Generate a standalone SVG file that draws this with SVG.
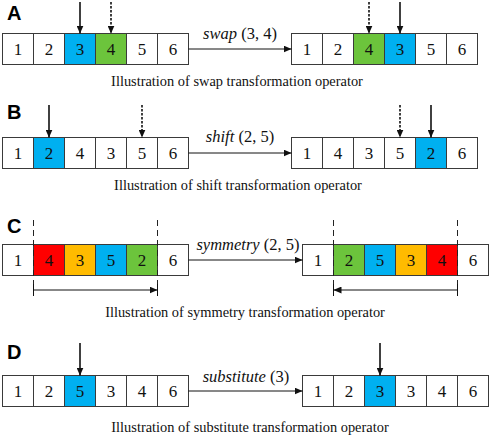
<svg xmlns="http://www.w3.org/2000/svg" width="491" height="438" viewBox="0 0 491 438">
<style>
.c{stroke:#3a3a3a;stroke-width:1;fill:#fff}
.b{fill:#00b0f0}.g{fill:#6cc43c}.r{fill:#ff0000}.o{fill:#ffbb00}
.d{font-family:"Liberation Serif","Times New Roman",serif;font-size:17px;text-anchor:middle;fill:#111}
.op{font-family:"Liberation Serif","Times New Roman",serif;font-size:16.5px;text-anchor:middle;fill:#111}
.op tspan.i{font-style:italic}
.cap{font-family:"Liberation Serif","Times New Roman",serif;font-size:14.4px;text-anchor:middle;fill:#111}
.lab{font-family:"Liberation Sans",Arial,sans-serif;font-size:20px;font-weight:bold;fill:#000}
.ln{stroke:#111;stroke-width:1;fill:none}
.dn{stroke:#111;stroke-width:1.6;fill:none}
.dsh{stroke:#111;stroke-width:1.6;fill:none;stroke-dasharray:2.5 1.5}
.vd{stroke:#222;stroke-width:1;fill:none;stroke-dasharray:6 4}
</style>
<defs>
<marker id="ah" markerUnits="userSpaceOnUse" markerWidth="8" markerHeight="7" refX="8" refY="3.5" orient="auto">
<path d="M0,0 L8,3.5 L0,7 Z" fill="#111"/>
</marker>
</defs>

<!-- Row A -->
<g id="labelA"><text class="lab" x="7" y="20">A</text></g>
<g id="A-before">
<rect class="c" x="2.5" y="33.5" width="31" height="31"/><text class="d" x="18" y="55">1</text>
<rect class="c" x="33.5" y="33.5" width="31" height="31"/><text class="d" x="49" y="55">2</text>
<rect class="c b" x="64.5" y="33.5" width="31" height="31"/><text class="d" x="80" y="55">3</text>
<rect class="c g" x="95.5" y="33.5" width="31" height="31"/><text class="d" x="111" y="55">4</text>
<rect class="c" x="126.5" y="33.5" width="31" height="31"/><text class="d" x="142" y="55">5</text>
<rect class="c" x="157.5" y="33.5" width="31" height="31"/><text class="d" x="173" y="55">6</text>
</g>
<g id="A-after">
<rect class="c" x="291.5" y="33.5" width="31" height="31"/><text class="d" x="307" y="55">1</text>
<rect class="c" x="322.5" y="33.5" width="31" height="31"/><text class="d" x="338" y="55">2</text>
<rect class="c g" x="353.5" y="33.5" width="31" height="31"/><text class="d" x="369" y="55">4</text>
<rect class="c b" x="384.5" y="33.5" width="31" height="31"/><text class="d" x="400" y="55">3</text>
<rect class="c" x="415.5" y="33.5" width="31" height="31"/><text class="d" x="431" y="55">5</text>
<rect class="c" x="446.5" y="33.5" width="31" height="31"/><text class="d" x="462" y="55">6</text>
</g>
<text class="op" x="240" y="39"><tspan class="i">swap</tspan> (3, 4)</text>
<text class="cap" x="237" y="86">Illustration of swap transformation operator</text>

<!-- Row B -->
<g id="labelB"><text class="lab" x="7" y="119">B</text></g>
<g id="B-before">
<rect class="c" x="2.5" y="137.5" width="31" height="31"/><text class="d" x="18" y="159">1</text>
<rect class="c b" x="33.5" y="137.5" width="31" height="31"/><text class="d" x="49" y="159">2</text>
<rect class="c" x="64.5" y="137.5" width="31" height="31"/><text class="d" x="80" y="159">4</text>
<rect class="c" x="95.5" y="137.5" width="31" height="31"/><text class="d" x="111" y="159">3</text>
<rect class="c" x="126.5" y="137.5" width="31" height="31"/><text class="d" x="142" y="159">5</text>
<rect class="c" x="157.5" y="137.5" width="31" height="31"/><text class="d" x="173" y="159">6</text>
</g>
<g id="B-after">
<rect class="c" x="291.5" y="137.5" width="31" height="31"/><text class="d" x="307" y="159">1</text>
<rect class="c" x="322.5" y="137.5" width="31" height="31"/><text class="d" x="338" y="159">4</text>
<rect class="c" x="353.5" y="137.5" width="31" height="31"/><text class="d" x="369" y="159">3</text>
<rect class="c" x="384.5" y="137.5" width="31" height="31"/><text class="d" x="400" y="159">5</text>
<rect class="c b" x="415.5" y="137.5" width="31" height="31"/><text class="d" x="431" y="159">2</text>
<rect class="c" x="446.5" y="137.5" width="31" height="31"/><text class="d" x="462" y="159">6</text>
</g>
<text class="op" x="240" y="142"><tspan class="i">shift</tspan> (2, 5)</text>
<text class="cap" x="238" y="190">Illustration of shift transformation operator</text>

<!-- Row C -->
<g id="labelC"><text class="lab" x="7" y="233">C</text></g>
<g id="C-before">
<rect class="c" x="2.5" y="244.5" width="31" height="31"/><text class="d" x="18" y="266">1</text>
<rect class="c r" x="33.5" y="244.5" width="31" height="31"/><text class="d" x="49" y="266">4</text>
<rect class="c o" x="64.5" y="244.5" width="31" height="31"/><text class="d" x="80" y="266">3</text>
<rect class="c b" x="95.5" y="244.5" width="31" height="31"/><text class="d" x="111" y="266">5</text>
<rect class="c g" x="126.5" y="244.5" width="31" height="31"/><text class="d" x="142" y="266">2</text>
<rect class="c" x="157.5" y="244.5" width="31" height="31"/><text class="d" x="173" y="266">6</text>
</g>
<g id="C-after">
<rect class="c" x="302.5" y="244.5" width="31" height="31"/><text class="d" x="318" y="266">1</text>
<rect class="c g" x="333.5" y="244.5" width="31" height="31"/><text class="d" x="349" y="266">2</text>
<rect class="c b" x="364.5" y="244.5" width="31" height="31"/><text class="d" x="380" y="266">5</text>
<rect class="c o" x="395.5" y="244.5" width="31" height="31"/><text class="d" x="411" y="266">3</text>
<rect class="c r" x="426.5" y="244.5" width="31" height="31"/><text class="d" x="442" y="266">4</text>
<rect class="c" x="457.5" y="244.5" width="31" height="31"/><text class="d" x="473" y="266">6</text>
</g>
<text class="op" x="248" y="250"><tspan class="i">symmetry</tspan> (2, 5)</text>
<text class="cap" x="245" y="317">Illustration of symmetry transformation operator</text>

<!-- Row D -->
<g id="labelD"><text class="lab" x="7" y="359">D</text></g>
<g id="D-before">
<rect class="c" x="2.5" y="375.5" width="31" height="31"/><text class="d" x="18" y="397">1</text>
<rect class="c" x="33.5" y="375.5" width="31" height="31"/><text class="d" x="49" y="397">2</text>
<rect class="c b" x="64.5" y="375.5" width="31" height="31"/><text class="d" x="80" y="397">5</text>
<rect class="c" x="95.5" y="375.5" width="31" height="31"/><text class="d" x="111" y="397">3</text>
<rect class="c" x="126.5" y="375.5" width="31" height="31"/><text class="d" x="142" y="397">4</text>
<rect class="c" x="157.5" y="375.5" width="31" height="31"/><text class="d" x="173" y="397">6</text>
</g>
<g id="D-after">
<rect class="c" x="302.5" y="375.5" width="31" height="31"/><text class="d" x="318" y="397">1</text>
<rect class="c" x="333.5" y="375.5" width="31" height="31"/><text class="d" x="349" y="397">2</text>
<rect class="c b" x="364.5" y="375.5" width="31" height="31"/><text class="d" x="380" y="397">3</text>
<rect class="c" x="395.5" y="375.5" width="31" height="31"/><text class="d" x="411" y="397">3</text>
<rect class="c" x="426.5" y="375.5" width="31" height="31"/><text class="d" x="442" y="397">4</text>
<rect class="c" x="457.5" y="375.5" width="31" height="31"/><text class="d" x="473" y="397">6</text>
</g>
<text class="op" x="246" y="382"><tspan class="i">substitute</tspan> (3)</text>
<text class="cap" x="250" y="432">Illustration of substitute transformation operator</text>

<g id="connectors">
<line class="ln" x1="188.5" y1="49" x2="291.5" y2="49" marker-end="url(#ah)"/>
<line class="ln" x1="188.5" y1="153" x2="291.5" y2="153" marker-end="url(#ah)"/>
<line class="ln" x1="188.5" y1="260" x2="302.5" y2="260" marker-end="url(#ah)"/>
<line class="ln" x1="188.5" y1="391" x2="302.5" y2="391" marker-end="url(#ah)"/>
<line class="dn" x1="80" y1="2" x2="80" y2="33.5" marker-end="url(#ah)"/>
<line class="dsh" x1="111" y1="2" x2="111" y2="33.5" marker-end="url(#ah)"/>
<line class="dsh" x1="369" y1="2" x2="369" y2="33.5" marker-end="url(#ah)"/>
<line class="dn" x1="400" y1="2" x2="400" y2="33.5" marker-end="url(#ah)"/>
<line class="dn" x1="49" y1="105" x2="49" y2="137.5" marker-end="url(#ah)"/>
<line class="dsh" x1="142" y1="105" x2="142" y2="137.5" marker-end="url(#ah)"/>
<line class="dsh" x1="400" y1="105" x2="400" y2="137.5" marker-end="url(#ah)"/>
<line class="dn" x1="431" y1="105" x2="431" y2="137.5" marker-end="url(#ah)"/>
<line class="vd" x1="33.5" y1="220" x2="33.5" y2="284"/>
<line class="vd" x1="157.5" y1="220" x2="157.5" y2="284"/>
<line class="ln" x1="33.5" y1="284" x2="33.5" y2="296"/>
<line class="ln" x1="157.5" y1="284" x2="157.5" y2="296"/>
<line class="ln" x1="33.5" y1="290" x2="157.5" y2="290" marker-end="url(#ah)"/>
<line class="vd" x1="333.5" y1="220" x2="333.5" y2="284"/>
<line class="vd" x1="457.5" y1="220" x2="457.5" y2="284"/>
<line class="ln" x1="333.5" y1="284" x2="333.5" y2="296"/>
<line class="ln" x1="457.5" y1="284" x2="457.5" y2="296"/>
<line class="ln" x1="457.5" y1="290" x2="333.5" y2="290" marker-end="url(#ah)"/>
<line class="dn" x1="80" y1="343" x2="80" y2="375.5" marker-end="url(#ah)"/>
<line class="dn" x1="380" y1="343" x2="380" y2="375.5" marker-end="url(#ah)"/>
</g>
</svg>
